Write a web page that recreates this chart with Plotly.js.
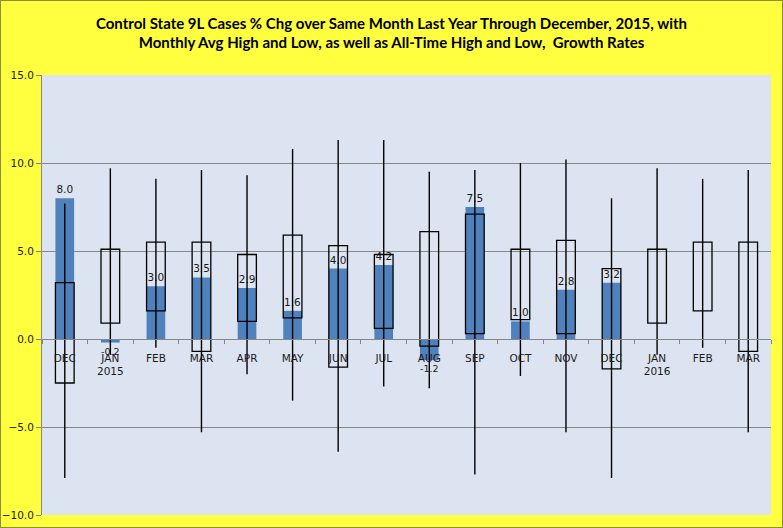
<!DOCTYPE html>
<html>
<head>
<meta charset="utf-8">
<script src="https://cdn.plot.ly/plotly-3.0.1.min.js"></script>
<style>
  body { margin: 0; background: #ffff40; }
  #chart { width: 781px; height: 526px; border: 1px solid #8e8e3a; }
</style>
</head>
<body>
<div id="chart"></div>
<script>
var months = ["DEC", "JAN<br>2015", "FEB", "MAR", "APR", "MAY", "JUN", "JUL",
  "AUG", "SEP", "OCT", "NOV", "DEC", "JAN<br>2016", "FEB", "MAR"];
var pctChg = [8.0, -0.2, 3.0, 3.5, 2.9, 1.6, 4.0, 4.2, -1.2, 7.5, 1.0, 2.8, 3.2, null, null, null];
var avgHigh = [3.2, 5.1, 5.5, 5.5, 4.8, 5.9, 5.3, 4.8, 6.1, 7.1, 5.1, 5.6, 4.0, 5.1, 5.5, 5.5];
var avgLow = [-2.5, 0.9, 1.6, -0.7, 1.0, 1.2, -1.6, 0.6, -0.4, 0.3, 1.1, 0.3, -1.7, 0.9, 1.6, -0.7];
var allHigh = [7.7, 9.7, 9.1, 9.6, 9.3, 10.8, 11.3, 11.3, 9.5, 9.6, 10.0, 10.2, 8.0, 9.7, 9.1, 9.6];
var allLow = [-7.9, -0.9, -0.5, -5.3, -2.0, -3.5, -6.4, -2.7, -2.8, -7.7, -2.1, -5.3, -7.9, -0.9, -0.5, -5.3];

var idx = months.map(function (m, i) { return i; });
var boxSpan = avgHigh.map(function (h, i) { return h - avgLow[i]; });
var upErr = allHigh.map(function (h, i) { return h - avgLow[i]; });
var downErr = allLow.map(function (l, i) { return avgLow[i] - l; });

var labelFont = { family: "DejaVu Sans", size: 10.5, color: "#1a1a1a" };

var trace_chg = {
  type: "bar",
  x: idx,
  y: pctChg,
  width: 0.41,
  marker: { color: "#4f81bd" },
  text: pctChg.map(function (v) { return v == null ? "" : v.toFixed(1); }),
  textposition: "outside",
  textangle: 0,
  textfont: labelFont,
  cliponaxis: false,
  hoverinfo: "none",
};

var trace_box = {
  type: "bar",
  x: idx,
  y: boxSpan,
  base: avgLow,
  width: 0.41,
  marker: { color: "rgba(0,0,0,0)", line: { color: "#000000", width: 1.3 } },
  hoverinfo: "none",
};

var trace_range = {
  type: "scatter",
  mode: "markers",
  x: idx,
  y: avgLow,
  marker: { size: 1, color: "rgba(0,0,0,0)" },
  error_y: {
    type: "data",
    symmetric: false,
    array: upErr,
    arrayminus: downErr,
    width: 0,
    thickness: 1.4,
    color: "#000000",
  },
  hoverinfo: "none",
};

var layout = {
  width: 781,
  height: 526,
  paper_bgcolor: "#ffff40",
  plot_bgcolor: "#dce4f1",
  showlegend: false,
  barmode: "overlay",
  margin: { l: 41, r: 11, t: 74, b: 12 },
  title: {
    text: "Control State 9L Cases % Chg over Same Month Last Year Through December, 2015, with<br>Monthly Avg High and Low, as well as All-Time High and Low,  Growth Rates",
    font: { family: "Lato", size: 15, color: "#000000", weight: "bold" },
    x: 0.5,
    xanchor: "center",
    y: 0.947,
    yanchor: "middle",
  },
  xaxis: {
    range: [-0.5, 15.5],
    tickmode: "array",
    tickvals: idx,
    ticktext: months,
    ticks: "",
    showgrid: false,
    zeroline: false,
    showline: true,
    linecolor: "#868686",
    anchor: "free",
    position: 0.4,
    tickfont: labelFont,
    ticklabelstandoff: 9,
    minor: { tickmode: "linear", tick0: 0.5, dtick: 1, ticks: "outside", ticklen: 4, tickcolor: "#868686" },
  },
  yaxis: {
    range: [-10, 15],
    tickmode: "linear",
    tick0: -10,
    dtick: 5,
    tickformat: ".1f",
    ticks: "outside",
    ticklen: 5,
    tickcolor: "#868686",
    showgrid: true,
    gridcolor: "#878787",
    gridwidth: 1,
    zeroline: false,
    showline: true,
    linecolor: "#868686",
    tickfont: labelFont,
  },
};

Plotly.newPlot("chart", [trace_chg, trace_box, trace_range], layout, { staticPlot: true });
</script>
</body>
</html>
